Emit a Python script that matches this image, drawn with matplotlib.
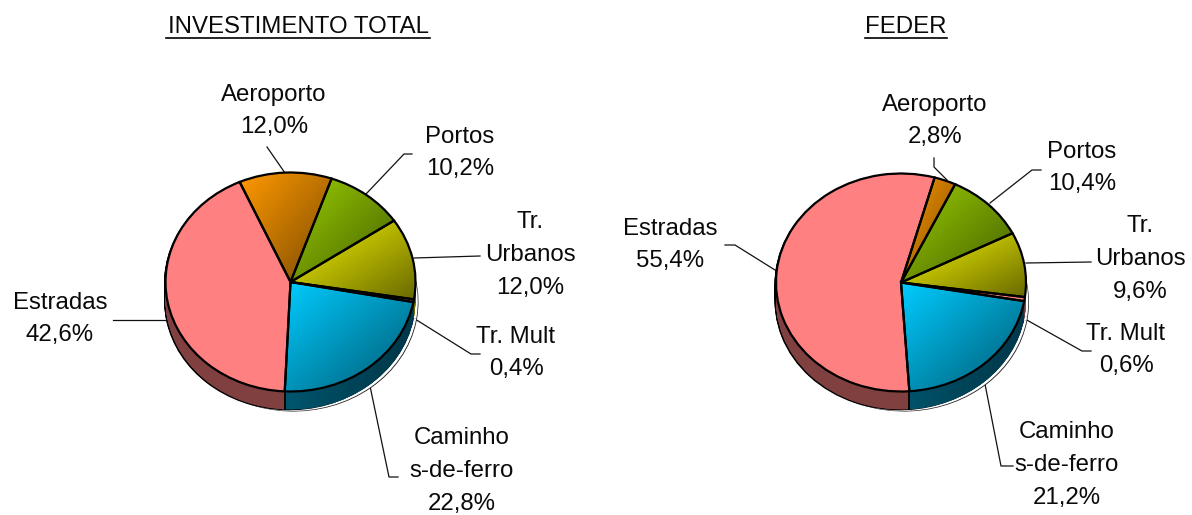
import numpy as np
import matplotlib
matplotlib.use("Agg")
import matplotlib.pyplot as plt
from matplotlib.colors import LinearSegmentedColormap

W, H = 1192, 515
plt.rcParams['font.family'] = ['Liberation Sans', 'DejaVu Sans']

categories = ["Aeroporto", "Portos", "Tr. Urbanos", "Tr. Mult", "Caminhos-de-ferro", "Estradas"]
total_values = [12.0, 10.2, 12.0, 0.4, 22.8, 42.6]
feder_values = [2.8, 10.4, 9.6, 0.6, 21.2, 55.4]
titles = ["INVESTIMENTO TOTAL", "FEDER"]
total_labels = ["Aeroporto\n12,0%", "Portos\n10,2%", "Tr.\nUrbanos\n12,0%", "Tr. Mult\n0,4%",
                "Caminho\ns-de-ferro\n22,8%", "Estradas\n42,6%"]
feder_labels = ["Aeroporto\n2,8%", "Portos\n10,4%", "Tr.\nUrbanos\n9,6%", "Tr. Mult\n0,6%",
                "Caminho\ns-de-ferro\n21,2%", "Estradas\n55,4%"]

bright = ["#FF9900", "#99CC00", "#F5F500", "#FF8080", "#00CCFF", "#FF8080"]
dark = ["#7A4A00", "#466000", "#6A6A00", "#FF8080", "#005A73", "#FF8080"]
side_a = ["#804D00", "#4D6600", "#666600", "#804040", "#00566E", "#804040"]
side_b = ["#804D00", "#4D6600", "#666600", "#804040", "#002A38", "#804040"]

fig = plt.figure(figsize=(W / 100, H / 100), dpi=100, facecolor="white")
bg = fig.add_axes([0, 0, 1, 1])
bg.set_xlim(0, W)
bg.set_ylim(H, 0)
bg.axis("off")


def pie_axes(cx, cy, rx, ry):
    ax = fig.add_axes([(cx - rx * 1.5) / W, 1 - (cy + ry * 1.5) / H, rx * 3 / W, ry * 3 / H])
    return ax


def draw_pie(values, start, cx, cy, rx, ry, depth):
    ax = pie_axes(cx, cy, rx, ry)
    dy = depth / ry
    px = 1 / rx
    py = 1 / ry
    kw = dict(startangle=start, counterclock=False, radius=1)
    # Thin dark line and white halo on the lower right
    ax.pie(values, center=(3.0 * px, -dy - 2.0 * py), colors=["#222222"] * 6,
           wedgeprops=dict(linewidth=0), **kw)
    ax.pie(values, center=(2.3 * px, -dy - 1.4 * py), colors=["white"] * 6,
           wedgeprops=dict(linewidth=0), **kw)
    # Black outline of the side, shifted so that it only shows on the lower left
    for d in np.linspace(depth, 0, int(depth) + 1):
        ax.pie(values, center=(-1.4 * px, -d / ry - 0.8 * py), colors=["black"] * 6,
               wedgeprops=dict(linewidth=0), **kw)
    # Extruded side
    for d in np.linspace(depth, 0, int(depth) * 2 + 1):
        w, _ = ax.pie(values, center=(0, -d / ry), colors=side_a,
                      wedgeprops=dict(linewidth=0), **kw)
        wd = w[4]
        cm = LinearSegmentedColormap.from_list("s", [side_a[4], side_b[4]])
        e = wd.get_path().get_extents()
        im = ax.imshow(np.linspace(0, 1, 64)[None, :], cmap=cm, extent=[e.x0, e.x1, e.y0, e.y1],
                       aspect="auto", zorder=wd.get_zorder(), interpolation="bilinear")
        im.set_clip_path(wd)
    # Top face with per-slice diagonal gradient
    wedges, _ = ax.pie(values, colors=bright, wedgeprops=dict(linewidth=0), **kw)
    for i, wd in enumerate(wedges):
        if bright[i] == dark[i]:
            continue
        e = wd.get_path().get_extents()
        u, v = np.meshgrid(np.linspace(0, 1, 96), np.linspace(0, 1, 96))
        cm = LinearSegmentedColormap.from_list("g", [bright[i], dark[i]])
        im = ax.imshow(0.5 * (u + v), cmap=cm, vmin=0, vmax=1, extent=[e.x0, e.x1, e.y0, e.y1],
                       origin="upper", aspect="auto", zorder=wd.get_zorder() + 0.1, interpolation="bilinear")
        im.set_clip_path(wd)
    # Outline above the gradient
    ax.pie(values, colors=["none"] * 6, wedgeprops=dict(edgecolor="black", linewidth=1.6, zorder=5), **kw)
    # Vertical edges of the side at the visible slice boundary
    acc = start - np.cumsum(values) * 3.6
    for a in np.radians(acc):
        if np.sin(a) < 0 and abs(np.cos(a)) < 0.9:
            x, y = np.cos(a), np.sin(a)
            ax.plot([x, x], [y, y - dy], color="black", lw=1.3, zorder=4)
    ax.set_aspect("auto")
    ax.set_xlim(-1.5, 1.5)
    ax.set_ylim(-1.5, 1.5)
    ax.axis("off")


draw_pie(total_values, 114, 290.5, 282, 125, 109.5, 18)
draw_pie(feder_values, 74.4, 901, 282.5, 125, 109, 18)

FS = 17.3
LC = "#111111"
for t, x in zip(titles, [298, 906]):
    bg.text(x, 27, t, ha="center", va="center", fontsize=FS, color="#0a0a0a")
bg.plot([166, 430], [38, 38], color="black", lw=1.2)
bg.plot([865, 947], [38, 38], color="black", lw=1.2)


def labels(texts, pos):
    for t, (x, y) in zip(texts, pos):
        bg.text(x, y, t, ha="center", va="center", fontsize=FS, color="#0a0a0a", linespacing=1.62)


labels(total_labels, [(274, 111), (460, 153), (530, 255), (516, 353), (462, 471), (60, 319)])
labels(feder_labels, [(935, 121), (1082, 168), (1140, 259), (1126, 350), (1067, 465), (670, 245)])

leaders = [
    ([267, 285], [147, 173]),
    ([412, 404, 366], [154, 154, 194]),
    ([414, 480], [258, 256]),
    ([415, 471, 480], [319, 354, 354]),
    ([370, 389, 398], [386, 477, 477]),
    ([113, 166], [320, 320]),
    ([934, 934, 947], [158, 167, 180]),
    ([1041, 1032, 990], [170, 170, 203]),
    ([1026, 1091], [263, 262]),
    ([1025, 1082, 1091], [319, 351, 351]),
    ([985, 1001, 1013], [384, 466, 466]),
    ([725, 735, 775], [245, 245, 270]),
]
for xs, ys in leaders:
    bg.plot(xs, ys, color=LC, lw=0.9, zorder=0)
bg.set_xlim(0, W)
bg.set_ylim(H, 0)

fig.savefig("out.png", dpi=100, facecolor="white")
